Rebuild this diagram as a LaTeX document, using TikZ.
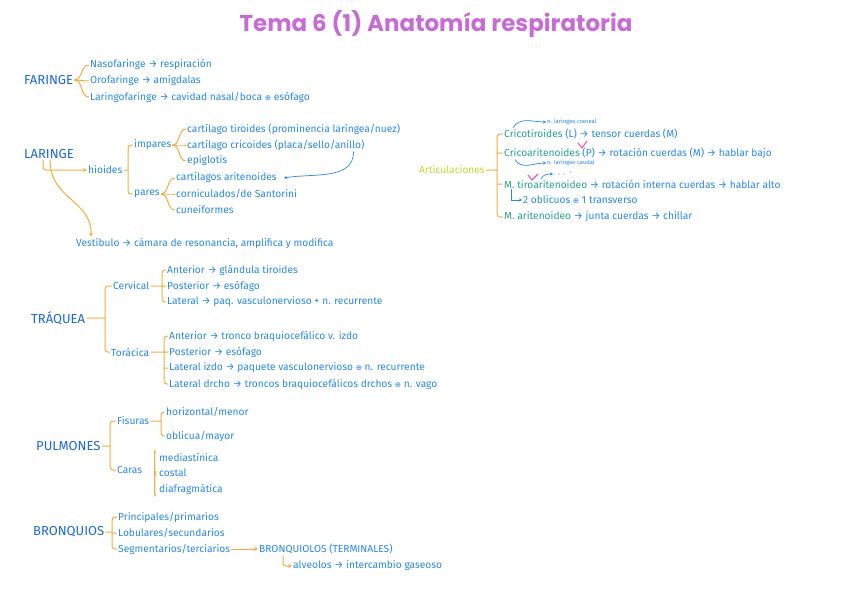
\documentclass[tikz,border=0pt]{standalone}
\usepackage{fontspec}
\setmainfont{Fira Sans}
\newfontfamily\titlefont{Poppins}
\newfontfamily\symfont{DejaVu Sans}
\usetikzlibrary{arrows.meta,decorations.pathreplacing}
\definecolor{ink}{RGB}{40,135,232}
\definecolor{headink}{RGB}{25,105,215}
\definecolor{orng}{RGB}{245,172,62}
\definecolor{purp}{RGB}{198,108,212}
\definecolor{limeg}{RGB}{196,214,48}
\definecolor{musc}{RGB}{38,160,140}
\definecolor{pinkm}{RGB}{238,88,172}
\newcommand\cplus{{\symfont\fontsize{7.5}{8}\selectfont ⊕}}
\begin{document}
\begin{tikzpicture}[x=1pt,y=-1pt,every node/.style={font=\fontsize{10.2}{11}\selectfont,text=ink,inner sep=1pt,anchor=west},
  head/.style={font=\fontsize{13}{14}\selectfont,text=headink},
  tiny/.style={font=\fontsize{5.8}{6}\selectfont},
  conn/.style={draw=orng,line width=1pt,rounded corners=3pt},
  tip/.style={conn,-{Stealth[length=4pt,width=4pt]}},
  inktip/.style={draw=ink,line width=.7pt,-{Stealth[length=3pt,width=3pt]}}]
\useasboundingbox (0,0) rectangle (848,599);
\node[anchor=center,font=\titlefont\bfseries\fontsize{23}{26}\selectfont,text=purp] (title) at (436,24) {Tema 6 (1) Anatomía respiratoria};
% faringe
\node[head] (far) at (23,80) {FARINGE};
\foreach \t [count=\i] in {{Nasofaringe → respiración},{Orofaringe → amígdalas},{Laringofaringe → cavidad nasal/boca \cplus\ esófago}}
  {\node (far\i) at (89,49+16*\i) {\t}; \draw[conn] (far.east) to[out=0,in=180] (far\i.west);}
% laringe
\node[head] (lar) at (23,154) {LARINGE};
\node (hio) at (87,170) {hioides};
\draw[tip] ([xshift=20pt]lar.south west) |- (hio.west);
\node (vest) at (75,243) {Vestíbulo → cámara de resonancia, amplifica y modifica};
\draw[tip] ([xshift=27pt]lar.south west) .. controls (50,200) and (92,200) .. ([xshift=16pt]vest.north west);
\node (imp) at (133,145) {impares};
\node (par) at (133,194) {pares};
\coordinate (hb) at (128,170);
\draw[conn] (hio.east) -- (hb) (imp.west) -| (hb) |- (par.west);
\foreach \t [count=\i] in {{cartílago tiroides (prominencia laríngea/nuez)},{cartílago cricoides (placa/sello/anillo)},epiglotis}
  {\node (imp\i) at (186,113+16*\i) {\t}; \draw[conn] (imp.east) to[out=0,in=180] (imp\i.west);}
\foreach \t [count=\i] in {{cartílagos aritenoides},{corniculados/de Santorini},cuneiformes}
  {\node (par\i) at (175,162+16*\i) {\t}; \draw[conn] (par.east) to[out=0,in=180] (par\i.west);}
\draw[inktip] ([xshift=-12pt]imp2.south east) to[out=-90,in=10] ([xshift=6pt]par1.east);
% articulaciones
\node[text=limeg] (art) at (418,170) {Articulaciones};
\coordinate (ab) at (497,170);
\node (ct) at (503,134) {{\color{musc}Cricotiroides} (L) → tensor cuerdas (M)};
\node (ca) at (503,153) {{\color{musc}Cricoaritenoides} (P) → rotación cuerdas (M) → hablar bajo};
\node (ta) at (503,184) {{\color{musc}M. tiroaritenoideo} → rotación interna cuerdas → hablar alto};
\node (aa) at (503,217) {{\color{musc}M. aritenoideo} → junta cuerdas → chillar};
\node (obl) at (522,200) {2 oblicuos \cplus\ 1 transverso};
\draw[conn] (art.east) -- (ab) (ct.west) -| (ab) |- (aa.west) (ca.west) -- (ca.west -| ab) (ta.west) -- (ta.west -| ab);
\draw[inktip] ([xshift=8pt]ta.south west) |- (obl.west);
\node[tiny] (ncr) at (546,122) {n. laríngeo craneal};
\node[tiny] (nca) at (546,163) {n. laríngeo caudal};
\draw[inktip] ([xshift=10pt]ct.north west) to[out=60,in=180] (ncr.west);
\draw[inktip] ([xshift=12pt]ca.south west) to[out=-60,in=180] (nca.west);
\draw[pinkm,line width=1.1pt,line cap=round] (578,143) -- (582,148) -- (587,141) (528,175) -- (532,180) -- (538,174);
\draw[inktip] (541,179) to[out=70,in=180] (553,174);
\fill[ink] (559,174) circle (.7) (564,174) circle (.7) (570,172) circle (.7);
% traquea
\node[head] (traq) at (30,318) {TRÁQUEA};
\node (cerv) at (112,286) {Cervical};
\node (tor) at (110,352) {Torácica};
\coordinate (tb) at (105,318);
\draw[conn] (traq.east) -- (tb) (cerv.west) -| (tb) |- (tor.west);
\foreach \t [count=\i] in {{Anterior → glándula tiroides},{Posterior → esófago},{Lateral → paq. vasculonervioso + n. recurrente}}
  {\node (cer\i) at (166,254+16*\i) {\t};}
\coordinate (cb) at (162,286);
\draw[conn] (cerv.east) -- (cer2.west) (cer1.west) -| (cb) |- (cer3.west);
\foreach \t [count=\i] in {{Anterior → tronco braquiocefálico v. izdo},{Posterior → esófago},{Lateral izdo → paquete vasculonervioso \cplus\ n. recurrente},{Lateral drcho → troncos braquiocefálicos drchos \cplus\ n. vago}}
  {\node (tor\i) at (168,320+16*\i) {\t};}
\coordinate (tob) at (164,352);
\draw[conn] (tor.east) -- (tor2.west) (tor1.west) -| (tob) |- (tor4.west) (tor3.west) -- (tor3.west -| tob);
% pulmones
\node[head] (pulm) at (35,446) {PULMONES};
\node (fis) at (116,421) {Fisuras};
\node (car) at (116,470) {Caras};
\coordinate (pb) at (110,446);
\draw[conn] (pulm.east) -- (pb) (fis.west) -| (pb) |- (car.west);
\node (fis1) at (165,412) {horizontal/menor};
\node (fis2) at (165,436) {oblicua/mayor};
\coordinate (fb) at (161,421);
\draw[conn] (fis.east) -- (fb) (fis1.west) -| (fb) |- (fis2.west);
\foreach \t [count=\i] in {mediastínica,costal,diafragmática}
  {\node (car\i) at (158,441+16*\i) {\t};}
\draw[conn,decorate,decoration={brace,amplitude=3pt}] ([xshift=-2pt]car3.south west) -- ([xshift=-2pt]car1.north west);
% bronquios
\node[head] (bronq) at (32,532) {BRONQUIOS};
\foreach \t [count=\i] in {{Principales/primarios},{Lobulares/secundarios},{Segmentarios/terciarios}}
  {\node (br\i) at (117,501+16*\i) {\t};}
\coordinate (bb) at (112,532);
\draw[conn] (bronq.east) -- (bb) (br1.west) -| (bb) |- (br3.west) (br2.west) -- (br2.west -| bb);
\node (bter) at (258,549) {BRONQUIOLOS (TERMINALES)};
\draw[tip] (br3.east) -- (bter.west);
\node (alv) at (292,566) {alveolos → intercambio gaseoso};
\draw[tip] ([xshift=25pt]bter.south west) |- (alv.west);
\end{tikzpicture}
\end{document}
